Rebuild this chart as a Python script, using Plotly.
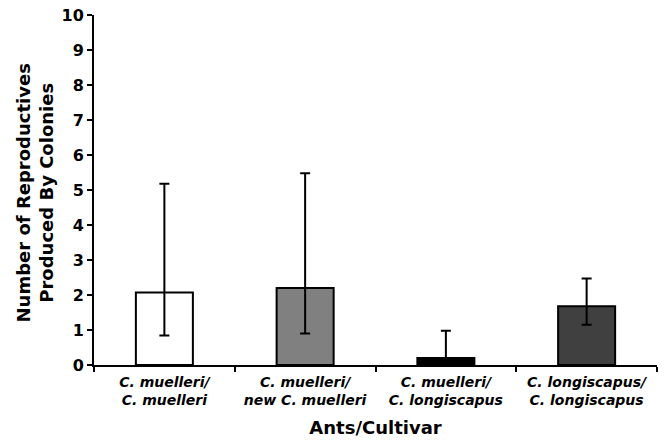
import plotly.graph_objects as go

categories = ["C. muelleri/<br>C. muelleri", "C. muelleri/<br>new C. muelleri",
              "C. muelleri/<br>C. longiscapus", "C. longiscapus/<br>C. longiscapus"]
means = [2.07, 2.2, 0.2, 1.68]
err_upper = [3.11, 3.28, 0.78, 0.79]
err_lower = [1.23, 1.3, 0.2, 0.53]
fill_colors = ["#ffffff", "#808080", "#000000", "#404040"]
y_ticks = list(range(0, 11))
y_title = "Number of Reproductives<br>Produced By Colonies"

FONT = "DejaVu Sans"

fig = go.Figure()
fig.add_trace(go.Bar(
    x=categories, y=means, width=0.405,
    marker=dict(color=fill_colors, line=dict(color="black", width=2)),
    error_y=dict(type="data", symmetric=False, array=err_upper, arrayminus=err_lower,
                 color="black", thickness=2, width=5),
))

fig.update_layout(
    width=668, height=440,
    margin=dict(l=94, r=11, t=15, b=75),
    plot_bgcolor="white", paper_bgcolor="white",
    showlegend=False,
    font=dict(family=FONT, color="black"),
)
fig.add_annotation(
    text="<b>" + y_title + "</b>", xref="paper", yref="paper",
    x=-0.1048, y=0.493, xanchor="center", yanchor="middle",
    textangle=-90, showarrow=False, font=dict(family=FONT, size=18),
)
fig.update_xaxes(
    showline=True, linecolor="black", linewidth=2,
    ticks="outside", ticklen=5, tickwidth=1.5, tickcolor="black",
    tickson="boundaries", tickangle=0, automargin=False, ticklabelstandoff=3,
    ticklabeloverflow="allow",
    ticktext=["<b><i>" + c + "</i></b>" for c in categories], tickvals=categories,
    tickfont=dict(family=FONT, size=14),
    title=dict(text="<b>Ants/Cultivar</b>", font=dict(family=FONT, size=18), standoff=14),
)
fig.update_yaxes(
    range=[0, 10], tickvals=y_ticks, ticktext=["<b>%d</b>" % v for v in y_ticks],
    showline=True, linecolor="black", linewidth=2,
    ticks="outside", ticklen=5, tickwidth=1.5, tickcolor="black",
    showgrid=False, zeroline=False, automargin=False,
    ticklabeloverflow="allow",
    tickfont=dict(family=FONT, size=16),
)

fig.write_html("out.html", config={"displayModeBar": False},
               post_script="document.body.style.margin='0';")
